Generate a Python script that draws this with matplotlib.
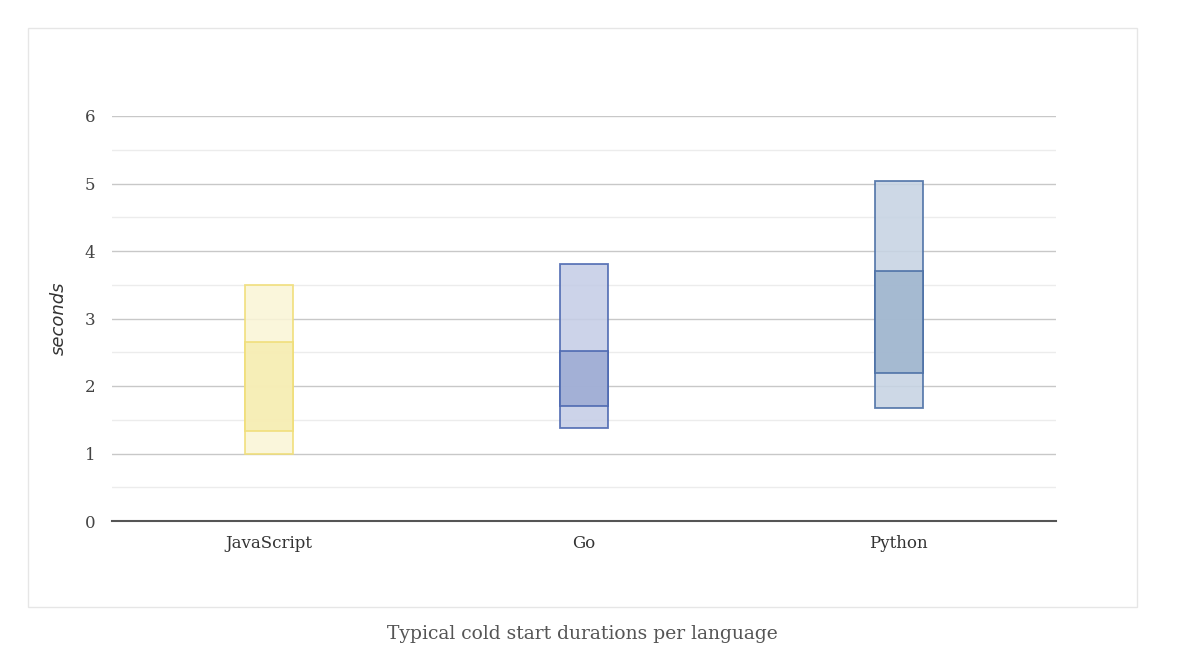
import matplotlib
matplotlib.use("Agg")
import matplotlib.pyplot as plt
from matplotlib.patches import Rectangle

languages = ["JavaScript", "Go", "Python"]
low = [1.0, 1.38, 1.68]
q1 = [1.33, 1.70, 2.19]
q3 = [2.65, 2.52, 3.71]
high = [3.50, 3.81, 5.03]

outer_colors = ["#faf5d6", "#c5cde6", "#c6d3e3"]
inner_colors = ["#f6edb2", "#9eacd4", "#a0b6cf"]
edge_colors = ["#f0de78", "#4a66b0", "#4a6fa5"]

fig = plt.figure(figsize=(12, 6.72), dpi=100)

# light frame around the chart
frame = Rectangle((28 / 1200, 1 - 607 / 672), (1137 - 28) / 1200, (607 - 28) / 672,
                  transform=fig.transFigure, fill=False, edgecolor="#e6e6e6", linewidth=1)
fig.patches.append(frame)

ax = fig.add_axes([112 / 1200, 1 - 521 / 672, (1056 - 112) / 1200, (521 - 116) / 672])

ax.set_xlim(-0.5, 2.5)
ax.set_ylim(0, 6)
ax.set_yticks(range(0, 7))
ax.set_yticks([0.5 + i for i in range(6)], minor=True)
ax.grid(axis="y", which="major", color="#c8c8c8", linewidth=1)
ax.grid(axis="y", which="minor", color="#ececec", linewidth=1)
ax.set_axisbelow(True)

width = 0.153
for i, lang in enumerate(languages):
    x0 = i - width / 2
    ax.add_patch(Rectangle((x0, low[i]), width, high[i] - low[i], facecolor=outer_colors[i],
                           edgecolor=edge_colors[i], linewidth=1.3, alpha=0.88, zorder=2))
    ax.add_patch(Rectangle((x0, q1[i]), width, q3[i] - q1[i], facecolor=inner_colors[i],
                           edgecolor=edge_colors[i], linewidth=1.3, alpha=0.88, zorder=3))

ax.set_xticks(range(len(languages)))
ax.set_xticklabels(languages, fontfamily="DejaVu Serif", fontsize=12, color="#333333")
for lbl in ax.get_yticklabels():
    lbl.set_fontfamily("DejaVu Serif")
ax.tick_params(axis="y", which="both", labelsize=12, labelcolor="#444444", length=0, pad=12)
ax.tick_params(axis="x", length=0, pad=10)

for side in ["top", "right", "left"]:
    ax.spines[side].set_visible(False)
ax.spines["bottom"].set_color("#555555")
ax.spines["bottom"].set_linewidth(1.5)

ax.set_ylabel("seconds", fontstyle="italic", fontsize=13, color="#333333", labelpad=12,
              fontfamily="DejaVu Sans")

fig.text(582 / 1200, 1 - 634 / 672, "Typical cold start durations per language",
         ha="center", va="center", fontfamily="DejaVu Serif", fontsize=13.5, color="#555555")

fig.savefig("out.png", dpi=100)
